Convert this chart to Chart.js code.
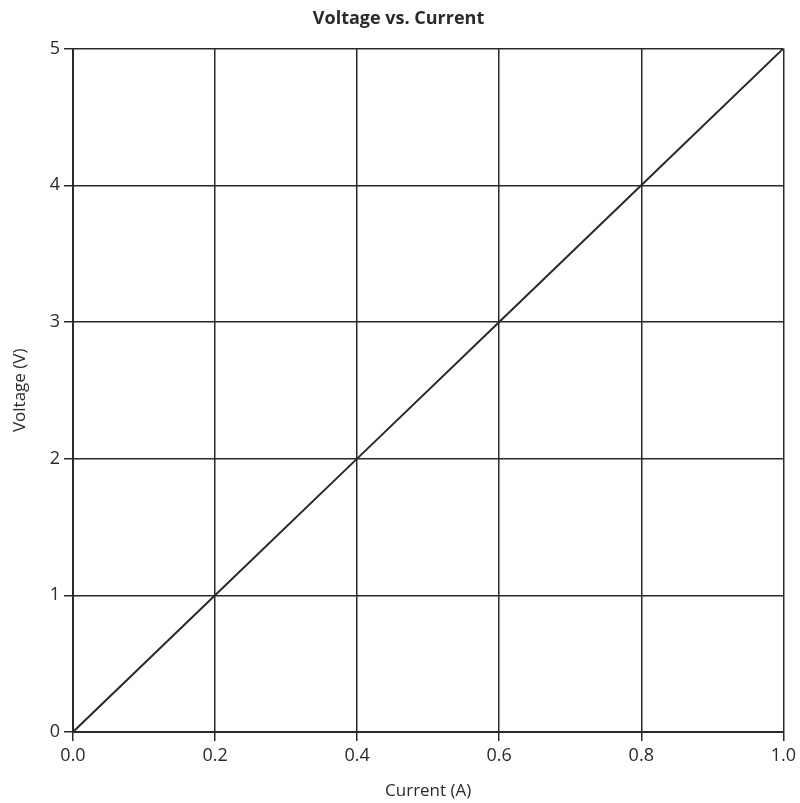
<!DOCTYPE html>
<html>
<head>
<meta charset="utf-8">
<script src="https://cdn.jsdelivr.net/npm/chart.js@4/dist/chart.umd.min.js"></script>
<style>
  html, body { margin: 0; padding: 0; background: #fff; }
  #wrap { width: 800px; height: 803px; position: relative; }
</style>
</head>
<body>
<div id="wrap"><canvas id="grafico"></canvas></div>
<script>
// datos
const corriente = [0.0, 0.2, 0.4, 0.6, 0.8, 1.0];
const voltaje = [0, 1, 2, 3, 4, 5];
const ticksX = [0.0, 0.2, 0.4, 0.6, 0.8, 1.0];
const ticksY = [0, 1, 2, 3, 4, 5];

const fuente = "'Open Sans', sans-serif";
const negro = '#2a2a2a';

const puntos = corriente.map((x, i) => ({ x: x, y: voltaje[i] }));

new Chart(document.getElementById('grafico'), {
  type: 'scatter',
  data: {
    datasets: [{
      data: puntos,
      showLine: true,
      borderColor: negro,
      borderWidth: 2,
      pointRadius: 0,
      tension: 0
    }]
  },
  options: {
    responsive: true,
    maintainAspectRatio: false,
    animation: false,
    layout: { padding: { left: 10, right: 13, top: 0, bottom: 2 } },
    plugins: {
      legend: { display: false },
      tooltip: { enabled: false },
      title: {
        display: true,
        text: 'Voltage vs. Current',
        color: negro,
        font: { family: fuente, size: 18, weight: 'bold' },
        padding: { top: 8, bottom: 19 }
      }
    },
    scales: {
      x: {
        type: 'linear',
        min: 0, max: 1,
        afterBuildTicks: s => { s.ticks = ticksX.map(v => ({ value: v })); },
        afterFit: s => { s.height = 69; },
        grid: { color: negro, lineWidth: 1.5, tickLength: 9 },
        border: { color: negro, width: 2 },
        ticks: {
          color: negro,
          font: { family: fuente, size: 18 },
          padding: 4,
          maxRotation: 0,
          callback: v => Number(v).toFixed(1)
        },
        title: {
          display: true,
          text: 'Current (A)',
          color: negro,
          font: { family: fuente, size: 17 },
          padding: { top: 2, bottom: 0 }
        }
      },
      y: {
        type: 'linear',
        min: 0, max: 5,
        afterBuildTicks: s => { s.ticks = ticksY.map(v => ({ value: v })); },
        afterFit: s => { s.width = 63; },
        grid: { color: negro, lineWidth: 1.5, tickLength: 9 },
        border: { color: negro, width: 2 },
        ticks: {
          color: negro,
          font: { family: fuente, size: 18 },
          padding: 4
        },
        title: {
          display: true,
          text: 'Voltage (V)',
          color: negro,
          font: { family: fuente, size: 17 },
          padding: { top: 0, bottom: 4 }
        }
      }
    }
  }
});
</script>
</body>
</html>
